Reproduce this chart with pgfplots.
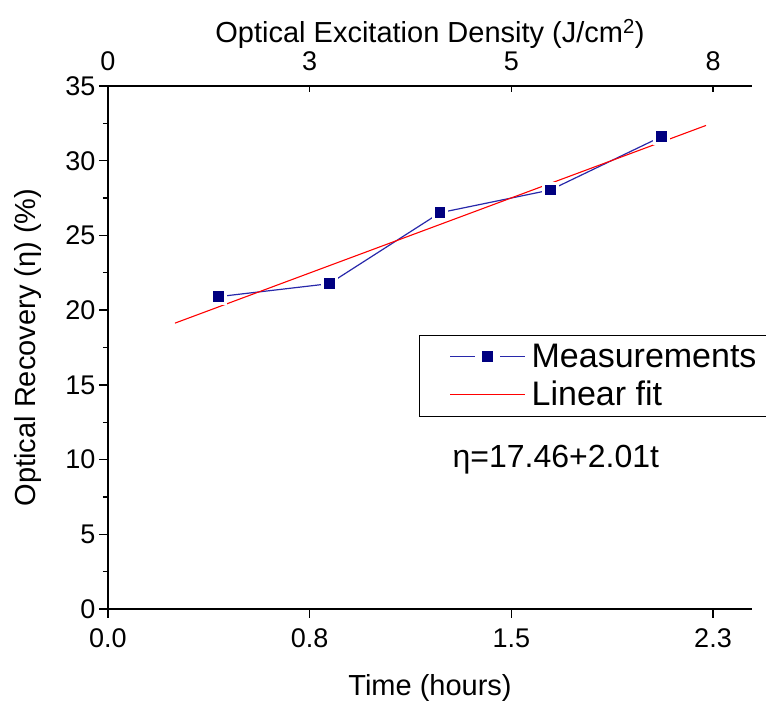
\documentclass[border=0pt]{standalone}
\usepackage{fontspec}
\setmainfont{Liberation Sans}
\usepackage{pgfplots}
\pgfplotsset{compat=1.18}
\definecolor{mnavy}{RGB}{0,0,128}
\definecolor{mline}{RGB}{40,40,170}
\definecolor{mred}{RGB}{255,0,0}
\pgfplotsset{
 measlegend/.style={legend image code/.code={\draw[##1, mark=none] (0pt,0pt) -- (25pt,0pt) (50pt,0pt) -- (75pt,0pt);
     \path[##1, only marks] plot coordinates {(37.5pt,0pt)};}},
 fitlegend/.style={legend image code/.code={\draw[##1] (0pt,0pt) -- (75pt,0pt);}},
}
\begin{document}
\begin{tikzpicture}
\begin{axis}[
 at={(0pt,0pt)}, anchor=origin,
 scale only axis, width=644pt, height=523pt,
 xmin=0, xmax=2.395, ymin=0, ymax=35,
 axis x line*=bottom, axis y line*=left,
 axis line style={-, line width=1.6pt},
 xtick={0,0.75,1.5,2.25}, xticklabels={0.0,0.8,1.5,2.3},
 ytick={0,5,...,35}, minor y tick num=1,
 tick align=outside,
 major tick length=9pt, minor tick length=5pt,
 tick style={black, line width=1.4pt},
 /pgf/number format/assume math mode=true,
 ticklabel style={font=\fontsize{27}{30}\selectfont},
 xticklabel style={yshift=-7pt},
 xlabel={Time (hours)}, ylabel={Optical Recovery (η) (\%)},
 label style={font=\fontsize{29}{34}\selectfont},
 xlabel style={at={(axis description cs:0.5,-0.151)}, anchor=center},
 ylabel style={at={(axis description cs:-0.124,0.5)}, anchor=center},
 legend entries={Measurements, Linear fit},
 legend cell align=left,
 legend style={at={(rel axis cs:0.483,0.524)}, anchor=north west, draw=black, line width=0.8pt,
   font=\fontsize{34}{38}\selectfont, inner xsep=30pt, inner ysep=7pt,
   row sep=8pt, column sep=4pt},
]
\addplot[mline, line width=1.2pt, mark=square*, mark size=6.8pt,
  mark options={fill=mnavy, draw=white, line width=3pt}, measlegend]
 coordinates {(0.410,20.90) (0.823,21.77) (1.235,26.52) (1.645,28.04) (2.058,31.61)};
\addplot[mred, line width=1.1pt, fitlegend]
 coordinates {(0.249,19.13) (2.224,32.36)};
\node[anchor=west, inner sep=0pt, font=\fontsize{32}{36}\selectfont] at (axis cs:1.281,10.0) {η=17.46+2.01t};
\end{axis}
\begin{axis}[
 at={(0pt,0pt)}, anchor=origin,
 scale only axis, width=644pt, height=523pt,
 xmin=0, xmax=7.983, ymin=0, ymax=35,
 axis x line*=top, axis y line=none,
 axis line style={-, line width=1.6pt},
 xtick={0,2.5,5,7.5}, xticklabels={0,3,5,8},
 tick align=inside, major tick length=6pt,
 tick style={black, line width=1.4pt},
 ticklabel style={font=\fontsize{27}{30}\selectfont},
 xticklabel style={yshift=12pt},
 xlabel={Optical Excitation Density (J/cm\textsuperscript{2})},
 label style={font=\fontsize{29}{34}\selectfont},
 xlabel style={at={(axis description cs:0.5,1.10)}, anchor=center},
]
\end{axis}
\pgfresetboundingbox
\path[use as bounding box] (-108pt,-94pt) rectangle (658pt,609pt);
\end{tikzpicture}
\end{document}
